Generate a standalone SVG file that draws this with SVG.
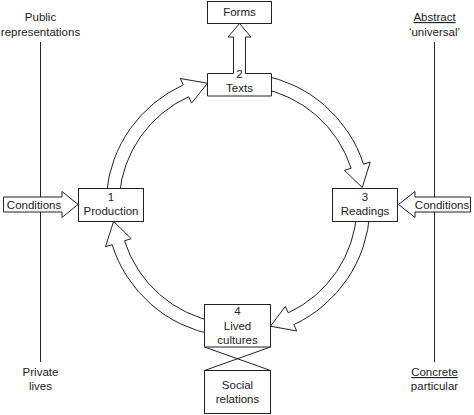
<svg xmlns="http://www.w3.org/2000/svg" width="474" height="415" viewBox="0 0 474 415">
<style>
.t{font-family:"Liberation Sans",Arial,sans-serif;font-size:11.5px;fill:#222;text-anchor:middle}
.box{fill:#fff;stroke:#222;stroke-width:1}
.ax{stroke:#222;stroke-width:1;fill:none}
.arr{fill:#fff;stroke:#222;stroke-width:1;stroke-linejoin:miter}
.u{text-decoration:underline}
</style>
<rect width="474" height="415" fill="#fff"/>
<g id="axes">
<line class="ax" x1="40.5" y1="42" x2="40.5" y2="362"/>
<line class="ax" x1="434.5" y1="42" x2="434.5" y2="362"/>
<text class="t" x="40.5" y="21">Public</text>
<text class="t" x="40.5" y="36">representations</text>
<text class="t" x="40.5" y="376">Private</text>
<text class="t" x="40.5" y="390">lives</text>
<text class="t u" x="434.5" y="21">Abstract</text>
<text class="t" x="434.5" y="36">‘universal’</text>
<text class="t u" x="434.5" y="376">Concrete</text>
<text class="t" x="434.5" y="390">particular</text>
</g>
<g id="connectors">
<path class="arr" d="M106.50,193.50 A132,132 0 0 1 183.26,84.89 L180.36,78.52 L207.64,83.23 L191.55,103.08 L188.65,96.71 A119,119 0 0 0 119.45,194.63"/>
<path class="arr" d="M260.92,75.00 A132,132 0 0 1 363.54,164.21 L370.20,162.05 L362.28,187.53 L344.52,170.39 L351.18,168.23 A119,119 0 0 0 258.66,87.81"/>
<path class="arr" d="M369.82,211.91 A132,132 0 0 1 293.79,324.63 L296.74,330.98 L270.48,326.22 L285.33,306.51 L288.29,312.85 A119,119 0 0 0 356.84,211.23"/>
<path class="arr" d="M215.08,335.00 A132,132 0 0 1 112.11,244.69 L105.43,246.80 L113.57,221.38 L131.18,238.68 L124.51,240.78 A119,119 0 0 0 217.34,322.19"/>
<path class="arr" d="M233.5,78 L233.5,37 L228,37 L239.5,23.5 L251,37 L245.5,37 L245.5,78"/>
<line class="ax" x1="204.5" y1="347" x2="270.5" y2="370.5"/>
<line class="ax" x1="270.5" y1="347" x2="204.5" y2="370.5"/>
<path class="arr" d="M3.5,197 L62,197 L62,191.5 L78,204.5 L62,217.5 L62,212 L3.5,212 Z"/>
<path class="arr" d="M470.5,197 L415,197 L415,191.5 L398.5,204.5 L415,217.5 L415,212 L470.5,212 Z"/>
<text class="t" x="34" y="209">Conditions</text>
<text class="t" x="442" y="209">Conditions</text>
</g>
<g id="forms">
<rect class="box" x="207.5" y="1.5" width="64" height="22"/>
<text class="t" x="239.5" y="16">Forms</text>
</g>
<g id="texts">
<rect x="207.5" y="73.5" width="64" height="22.5" fill="#fff"/>
<path class="ax" d="M233.5,73.5 L207.5,73.5 L207.5,96 L271.5,96 L271.5,73.5 L245.5,73.5"/>
<text class="t" x="239.5" y="78">2</text>
<text class="t" x="239.5" y="92">Texts</text>
</g>
<g id="production">
<rect class="box" x="78.5" y="188.5" width="65" height="33"/>
<text class="t" x="111" y="201">1</text>
<text class="t" x="111" y="215">Production</text>
</g>
<g id="readings">
<rect class="box" x="332.5" y="188.5" width="65" height="33"/>
<text class="t" x="365" y="201">3</text>
<text class="t" x="365" y="215">Readings</text>
</g>
<g id="lived">
<rect class="box" x="204.5" y="304.5" width="66" height="42.5"/>
<text class="t" x="237.5" y="315">4</text>
<text class="t" x="237.5" y="330">Lived</text>
<text class="t" x="237.5" y="344">cultures</text>
</g>
<g id="social">
<rect class="box" x="204.5" y="370.5" width="66" height="43"/>
<text class="t" x="237.5" y="389">Social</text>
<text class="t" x="237.5" y="403">relations</text>
</g>
</svg>
